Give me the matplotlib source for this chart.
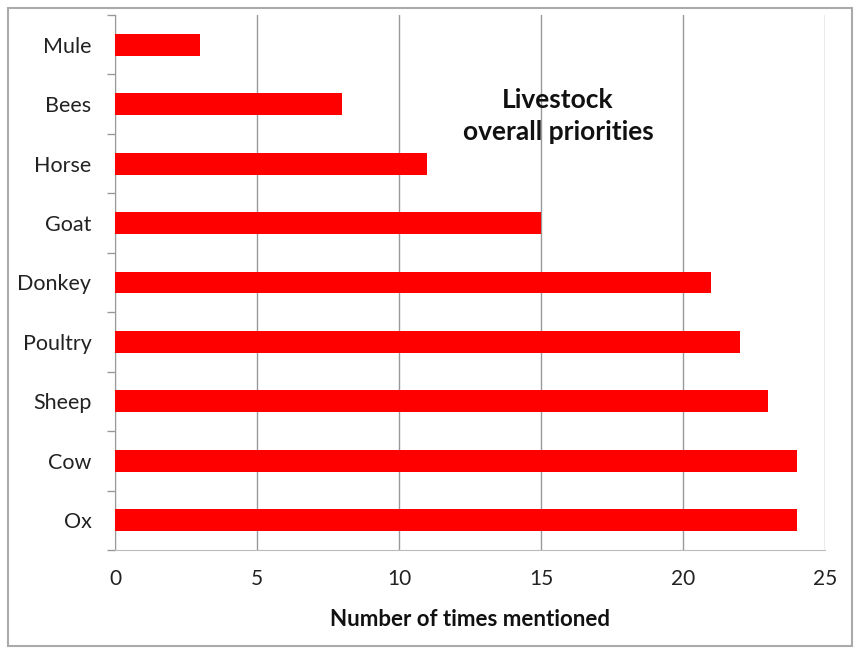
#!/usr/bin/env python3

import matplotlib
matplotlib.use("Agg")
import matplotlib.pyplot as plt
from matplotlib.patches import Rectangle

# livestock mentions, bottom to top
animals = ["Ox", "Cow", "Sheep", "Poultry", "Donkey", "Goat", "Horse", "Bees", "Mule"]
mentions = [24, 24, 23, 22, 21, 15, 11, 8, 3]
x_ticks = [0, 5, 10, 15, 20, 25]

plt.rcParams['font.family'] = ['Lato', 'DejaVu Sans']

fig = plt.figure(figsize=(8.56, 6.5), dpi=100)
ax = fig.add_axes([115 / 856, 1 - 550 / 650, 710 / 856, 535 / 650])

ypos = list(range(len(animals)))
ax.barh(ypos, mentions, height=0.37, color="#ff0000", zorder=3)

ax.set_xlim(0, 25)
ax.set_ylim(-0.5, len(animals) - 0.5)
ax.set_xticks(x_ticks)
ax.set_xticklabels([str(t) for t in x_ticks], fontsize=15, color="#222222")
ax.set_yticks(ypos)
ax.set_yticklabels(animals, fontsize=15.5, color="#222222")
ax.tick_params(axis="y", length=0, pad=17)
ax.tick_params(axis="x", length=0, pad=14)

# category separator ticks on the y axis
ax.set_yticks([y - 0.5 for y in range(len(animals) + 1)], minor=True)
ax.tick_params(axis="y", which="minor", length=6, color="#999999", width=1)

ax.grid(axis="x", color="#999999", linewidth=1, zorder=0)
for side in ["top", "right"]:
    ax.spines[side].set_visible(False)
ax.spines["left"].set_color("#999999")
ax.spines["bottom"].set_color("#bbbbbb")

ax.set_xlabel("Number of times mentioned", fontsize=16, fontweight="bold",
              labelpad=14, color="#111111")

ax.text(15.6, 6.8, "Livestock\noverall priorities", fontsize=19,
        fontweight="bold", ha="center", va="center", linespacing=1.4,
        color="#111111")

# outer frame
fig.patches.append(Rectangle((8 / 856, 4 / 650), 844 / 856, 638 / 650,
                             transform=fig.transFigure, fill=False,
                             edgecolor="#aaaaaa", linewidth=1.5))

fig.savefig("out.png", dpi=100)
